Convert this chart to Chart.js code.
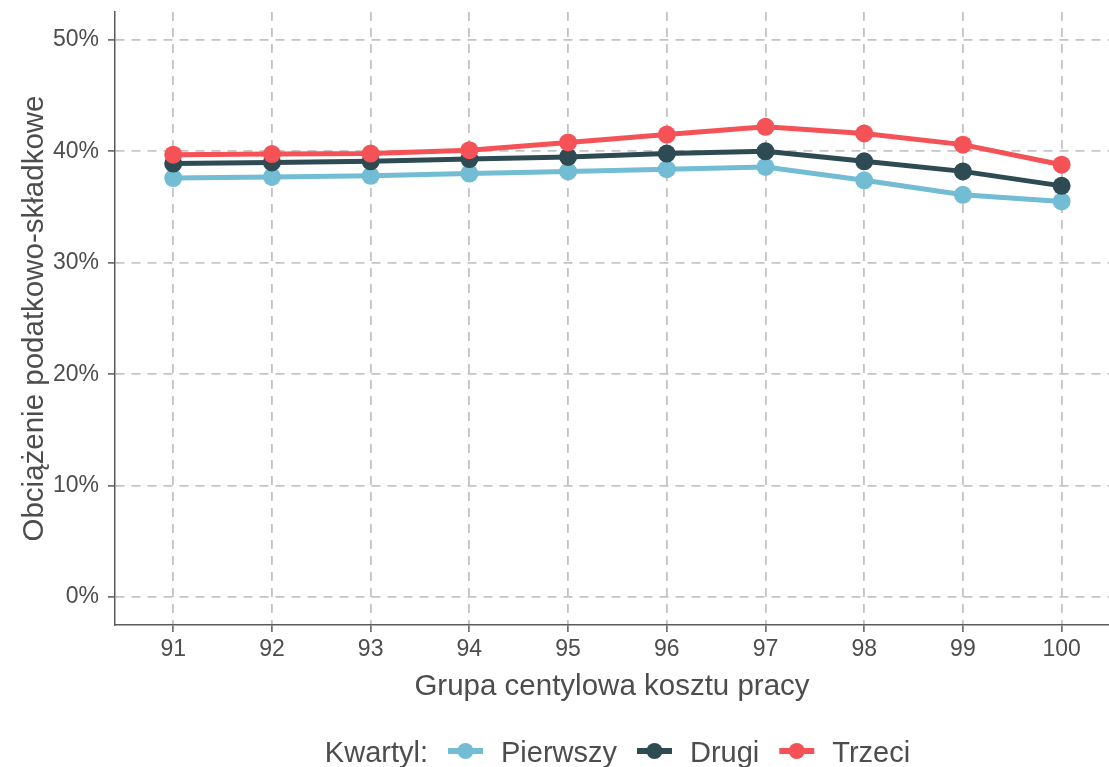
<!DOCTYPE html>
<html>
<head>
<meta charset="utf-8">
<script src="https://cdn.jsdelivr.net/npm/chart.js@4.4.0/dist/chart.umd.min.js"></script>
<style>
  html, body { margin: 0; padding: 0; background: #fff; }
  #wrap { width: 1109px; height: 767px; }
</style>
</head>
<body>
<div id="wrap"><canvas id="chart" width="1109" height="767"></canvas></div>
<script>
"use strict";

// grupy centylowe kosztu pracy (os X)
var centyle = [91, 92, 93, 94, 95, 96, 97, 98, 99, 100];

// obciazenie podatkowo-skladkowe w %
var pierwszy = [37.6, 37.7, 37.8, 38.0, 38.2, 38.4, 38.6, 37.4, 36.1, 35.5];
var drugi = [38.9, 39.0, 39.1, 39.3, 39.5, 39.8, 40.0, 39.1, 38.2, 36.9];
var trzeci = [39.7, 39.75, 39.8, 40.1, 40.8, 41.5, 42.2, 41.6, 40.6, 38.8];

var yTicks = [0, 10, 20, 30, 40, 50];
var seriesNames = ["Pierwszy", "Drugi", "Trzeci"];
var legendTitle = "Kwartyl:";

var FONT = "'Liberation Sans', Arial, sans-serif";
var TEXT_COLOR = "#4D4D4D";
var colors = ["#72BCD4", "#2E4A53", "#F45256"];

function toPoints(values) {
  return centyle.map(function(c, i) {
    return { x: c, y: values[i] };
  });
}

function makeDataset(label, values, color, order) {
  return {
    label: label,
    data: toPoints(values),
    borderColor: color,
    backgroundColor: color,
    borderWidth: 5,
    pointRadius: 9,
    pointHoverRadius: 9,
    pointBorderWidth: 0,
    tension: 0,
    order: order
  };
}

// legenda w jednym wierszu, z tytulem po lewej (jak w ggplot)
var kwartylLegend = {
  id: "kwartylLegend",
  afterDraw: function(chart) {
    var ctx = chart.ctx;
    var sets = chart.data.datasets;
    var markerW = 35, gapTitle = 20, gapMarker = 18, gapItem = 20;
    var centerX = 617.5, baseY = 762, markerY = 751;

    ctx.save();
    ctx.font = "29px " + FONT;
    ctx.textBaseline = "alphabetic";
    ctx.textAlign = "left";

    var total = ctx.measureText(legendTitle).width;
    sets.forEach(function(ds, i) {
      total += (i === 0 ? gapTitle : gapItem) + markerW + gapMarker + ctx.measureText(ds.label).width;
    });

    var x = centerX - total / 2;
    ctx.fillStyle = TEXT_COLOR;
    ctx.fillText(legendTitle, x, baseY);
    x += ctx.measureText(legendTitle).width;

    sets.forEach(function(ds, i) {
      x += (i === 0 ? gapTitle : gapItem);
      ctx.strokeStyle = ds.borderColor;
      ctx.lineWidth = 6;
      ctx.beginPath();
      ctx.moveTo(x, markerY);
      ctx.lineTo(x + markerW, markerY);
      ctx.stroke();
      ctx.fillStyle = ds.borderColor;
      ctx.beginPath();
      ctx.arc(x + markerW / 2, markerY, 8, 0, Math.PI * 2);
      ctx.fill();
      x += markerW + gapMarker;
      ctx.fillStyle = TEXT_COLOR;
      ctx.fillText(ds.label, x, baseY);
      x += ctx.measureText(ds.label).width;
    });
    ctx.restore();
  }
};

var gridOpts = {
  color: "#C4C4C4",
  lineWidth: 1.8,
  drawTicks: true,
  tickLength: 7,
  tickColor: "#5A5A5A",
  tickWidth: 1.5
};
var borderOpts = {
  display: true,
  color: "#5A5A5A",
  width: 1.5,
  dash: [9, 7]
};

new Chart(document.getElementById("chart"), {
  type: "line",
  data: {
    datasets: [
      makeDataset(seriesNames[0], pierwszy, colors[0], 3),
      makeDataset(seriesNames[1], drugi, colors[1], 2),
      makeDataset(seriesNames[2], trzeci, colors[2], 1)
    ]
  },
  options: {
    responsive: false,
    animation: false,
    devicePixelRatio: 1,
    layout: {
      autoPadding: false,
      padding: { top: 12, right: 0, bottom: 62, left: 0 }
    },
    plugins: {
      legend: { display: false },
      tooltip: { enabled: false }
    },
    scales: {
      x: {
        type: "linear",
        min: 90.41,
        max: 100.48,
        afterBuildTicks: function(scale) {
          scale.ticks = centyle.map(function(v) { return { value: v }; });
        },
        afterFit: function(scale) {
          scale.height = 80;
          scale.paddingLeft = 0;
          scale.paddingRight = 0;
        },
        grid: gridOpts,
        border: borderOpts,
        ticks: {
          autoSkip: false,
          maxRotation: 0,
          padding: 4,
          color: TEXT_COLOR,
          font: { family: FONT, size: 23 },
          callback: function(v) { return String(v); }
        },
        title: {
          display: true,
          text: "Grupa centylowa kosztu pracy",
          color: TEXT_COLOR,
          font: { family: FONT, size: 29.5 },
          padding: { top: 0, bottom: 0 }
        }
      },
      y: {
        type: "linear",
        min: -2.5,
        max: 52.5,
        afterBuildTicks: function(scale) {
          scale.ticks = yTicks.map(function(v) { return { value: v }; });
        },
        afterFit: function(scale) {
          scale.width = 115;
          scale.paddingTop = 0;
          scale.paddingBottom = 0;
        },
        grid: gridOpts,
        border: borderOpts,
        ticks: {
          padding: 9,
          color: TEXT_COLOR,
          font: { family: FONT, size: 23 },
          callback: function(v) { return v + "%"; }
        },
        title: {
          display: true,
          text: "Obciążenie podatkowo-składkowe",
          color: TEXT_COLOR,
          font: { family: FONT, size: 29.5 },
          padding: { top: 17, bottom: 0 }
        }
      }
    }
  },
  plugins: [kwartylLegend]
});
</script>
</body>
</html>
